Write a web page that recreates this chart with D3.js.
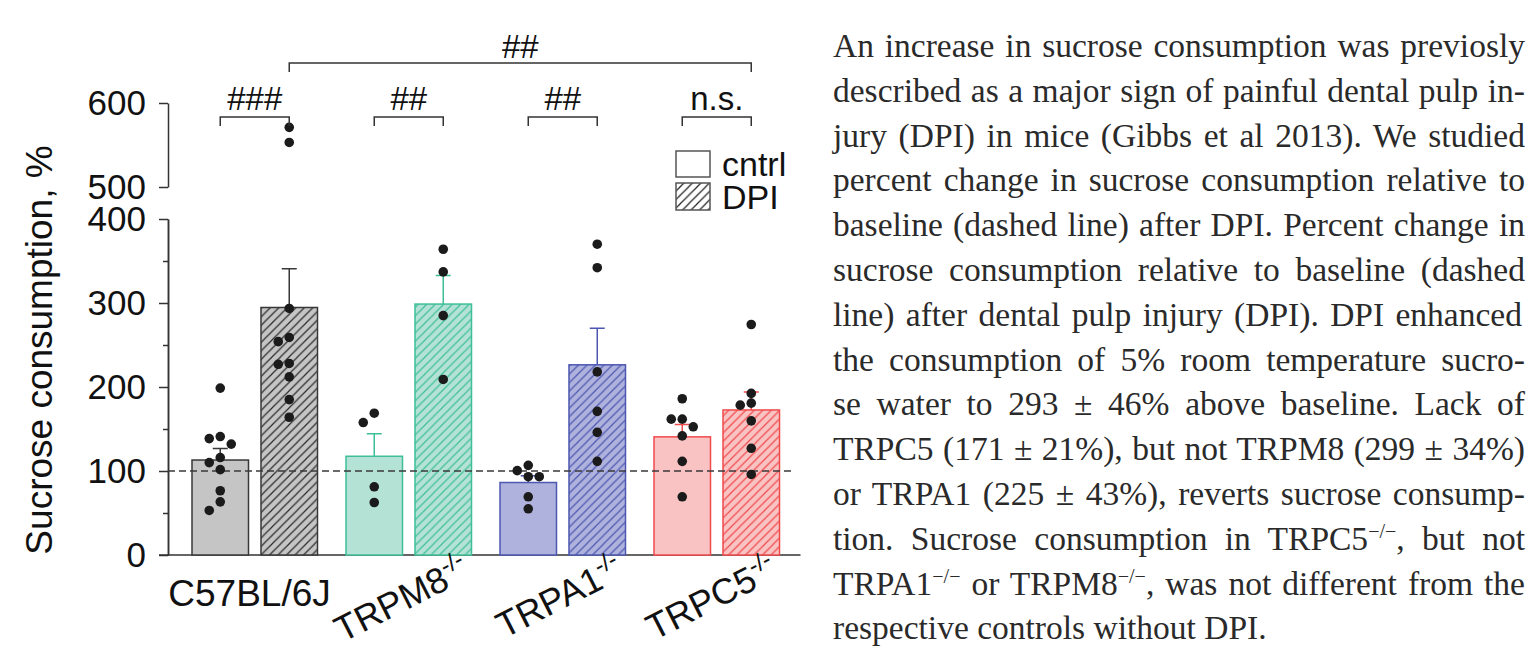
<!DOCTYPE html>
<html lang="en">
<head>
<meta charset="UTF-8">
<title>Sucrose consumption after DPI</title>
<script src="https://d3js.org/d3.v7.min.js"></script>
<style>
  body { margin: 0; background: #fff; }
  svg { position: absolute; left: 0; top: 0; }
  .axis text { font-family: "Liberation Sans", Arial, sans-serif; font-size: 35px; fill: #111; }
  .axis path, .axis line { stroke: #333; stroke-width: 1.5; }
  .lbl { font-family: "Liberation Sans", Arial, sans-serif; fill: #111; }
  .caption { font-family: "Liberation Serif", "Times New Roman", serif; font-size: 33.5px; fill: #2a2a2a; }
</style>
</head>
<body>
<svg id="chart" width="1537" height="658"></svg>
<script>
  // ---- data ----
  const groups = ["C57BL/6J", "TRPM8", "TRPA1", "TRPC5"];
  const conditions = ["cntrl", "DPI"];
  const cntrlPoints = [
    [198.7, 141, 138.6, 132, 116, 110, 101.6, 76.5, 63.3, 53],
    [168.8, 157.7, 81.2, 62.5],
    [106.7, 93.2, 93.2, 100.4, 69.3, 55],
    [186, 161.7, 161.7, 152.6, 141.8, 111.5, 69.3]
  ];
  const dpiPoints = [
    [571, 553, 293.5, 259, 254, 228, 227, 212, 185, 164],
    [364, 337, 285, 209],
    [370, 342, 218, 171, 146, 111.5],
    [274.4, 192.4, 178.4, 180.8, 159.7, 127, 95.9]
  ];
  const lowTicks = [0, 100, 200, 300, 400];
  const lowMinor = [50, 150, 250, 350];
  const highTicks = [500, 600];
  const baselineValue = 100;
  const withinSig = ["###", "##", "##", "n.s."];
  const acrossSig = { label: "##", from: "C57BL/6J", to: "TRPC5" };
  const fills = ["#c5c5c6", "#b4e2d4", "#afb2dc", "#f9c3c3"];
  const strokes = ["#383838", "#3fbf98", "#4d57b2", "#f04a4c"];
  const hatchInk = ["#2b2b2b", "#3fbf98", "#4d57b2", "#f04a4c"];

  const captionLines = [
    "An increase in sucrose consumption was previosly",
    "described as a major sign of painful dental pulp in-",
    "jury (DPI) in mice (Gibbs et al 2013). We studied",
    "percent change in sucrose consumption relative to",
    "baseline (dashed line) after DPI. Percent change in",
    "sucrose consumption relative to baseline (dashed",
    "line) after dental pulp injury (DPI). DPI  enhanced",
    "the consumption of 5% room temperature sucro-",
    "se water to 293 ± 46% above baseline. Lack of",
    "TRPC5 (171 ± 21%), but not TRPM8 (299 ± 34%)",
    "or TRPA1 (225 ± 43%), reverts sucrose consump-",
    "tion. Sucrose consumption in TRPC5[−/−], but not",
    "TRPA1[−/−] or TRPM8[−/−], was not different from the",
    "respective controls without DPI."
  ];

  const svg = d3.select("#chart");
  const defs = svg.append("defs");

  // ---- scales (broken y axis) ----
  const x0 = d3.scaleBand().domain(groups).range([178.5, 794.5]);
  const x1 = d3.scaleBand().domain(conditions).range([13.5, 139]).paddingInner(0.181);
  const bw = x1.bandwidth();
  const yLow = d3.scaleLinear().domain([0, 400]).range([555, 219]);
  const yHigh = d3.scaleLinear().domain([500, 600]).range([187, 103]);
  const y = v => v > 450 ? yHigh(v) : yLow(v);
  const axisX = 168;

  // hatch patterns
  function hatch(id, bg, ink) {
    const p = defs.append("pattern")
      .attr("id", id)
      .attr("patternUnits", "userSpaceOnUse")
      .attr("width", 8.5).attr("height", 8.5);
    p.append("rect").attr("width", 8.5).attr("height", 8.5).attr("fill", bg);
    p.append("path")
      .attr("d", "M-2,2 L2,-2 M0,8.5 L8.5,0 M6.5,10.5 L10.5,6.5")
      .attr("stroke", ink).attr("stroke-width", 1.2);
  }
  groups.forEach((g, i) => hatch("hatch" + i, fills[i], hatchInk[i]));
  hatch("hatchLegend", "#fff", "#222");

  // ---- axes ----
  const gAxis = svg.append("g").attr("class", "axis").attr("transform", `translate(${axisX},0)`);
  gAxis.append("g").call(d3.axisLeft(yLow).tickValues(lowTicks).tickSize(9).tickSizeOuter(0).tickPadding(13));
  gAxis.append("g").call(d3.axisLeft(yLow).tickValues(lowMinor).tickSize(5).tickSizeOuter(0).tickFormat(""));
  gAxis.append("g").call(d3.axisLeft(yHigh).tickValues(highTicks).tickSize(9).tickSizeOuter(0).tickPadding(13));

  // x baseline
  svg.append("line")
    .attr("x1", axisX - 9).attr("x2", x0.range()[1] + 6)
    .attr("y1", yLow(0)).attr("y2", yLow(0))
    .attr("stroke", "#333").attr("stroke-width", 1.5);

  // y label
  svg.append("text")
    .attr("class", "lbl")
    .attr("transform", `translate(52,350) rotate(-90)`)
    .attr("text-anchor", "middle")
    .style("font-size", "37px")
    .text("Sucrose consumption, %");

  // ---- bars ----
  const sem = a => d3.deviation(a) / Math.sqrt(a.length);
  const series = [];
  groups.forEach((g, i) => {
    [cntrlPoints[i], dpiPoints[i]].forEach((pts, j) => {
      series.push({ group: g, gi: i, cond: conditions[j], pts, mean: d3.mean(pts), sem: sem(pts) });
    });
  });
  const bx = d => x0(d.group) + x1(d.cond);

  svg.append("g").selectAll("rect").data(series).join("rect")
    .attr("x", bx)
    .attr("y", d => yLow(d.mean))
    .attr("width", bw)
    .attr("height", d => yLow(0) - yLow(d.mean))
    .attr("fill", d => d.cond === "DPI" ? `url(#hatch${d.gi})` : fills[d.gi])
    .attr("stroke", d => strokes[d.gi])
    .attr("stroke-width", 1.5);

  // error bars (upper only)
  const gErr = svg.append("g");
  series.forEach(d => {
    const cx = bx(d) + bw / 2;
    const top = yLow(d.mean + d.sem);
    gErr.append("path")
      .attr("d", `M${cx},${yLow(d.mean)} V${top} M${cx - 7.5},${top} H${cx + 7.5}`)
      .attr("fill", "none")
      .attr("stroke", strokes[d.gi])
      .attr("stroke-width", 1.5);
  });

  // dashed baseline
  svg.append("line")
    .attr("x1", axisX).attr("x2", x0.range()[1] - 2)
    .attr("y1", yLow(baselineValue)).attr("y2", yLow(baselineValue))
    .attr("stroke", "#3a3a3a").attr("stroke-width", 1.4)
    .attr("stroke-dasharray", "7,4");

  // ---- dots, dodged sideways so they don't pile up ----
  function dodge(values, minDist, step) {
    const placed = [];
    const out = new Array(values.length);
    const order = values.map((v, i) => i).sort((a, b) => values[b] - values[a]);
    order.forEach(i => {
      const py = y(values[i]);
      for (let k = 0; k < 11; k++) {
        const off = (k % 2 ? -1 : 1) * Math.ceil(k / 2) * step;
        if (placed.every(p => Math.hypot(p.x - off, p.y - py) >= minDist)) {
          placed.push({ x: off, y: py });
          out[i] = off;
          break;
        }
      }
    });
    return out;
  }
  const gDots = svg.append("g");
  series.forEach(d => {
    const offs = dodge(d.pts, 9.5, 11);
    const cx = bx(d) + bw / 2;
    d.pts.forEach((v, k) => {
      gDots.append("circle")
        .attr("cx", cx + offs[k])
        .attr("cy", y(v))
        .attr("r", 4.8)
        .attr("fill", "#1b1b1b");
    });
  });

  // ---- significance brackets ----
  const center = (g, c) => x0(g) + x1(c) + bw / 2;
  const gSig = svg.append("g");
  function bracket(xa, xb, yy, label, ty) {
    gSig.append("path")
      .attr("d", `M${xa},${yy + 9} V${yy} H${xb} V${yy + 9}`)
      .attr("fill", "none").attr("stroke", "#333").attr("stroke-width", 1.5);
    gSig.append("text").attr("class", "lbl")
      .attr("x", (xa + xb) / 2).attr("y", ty)
      .attr("text-anchor", "middle")
      .style("font-size", "33px")
      .text(label);
  }
  groups.forEach((g, i) => bracket(center(g, "cntrl"), center(g, "DPI"), 117, withinSig[i], 110));
  bracket(center(acrossSig.from, "DPI"), center(acrossSig.to, "DPI"), 63, acrossSig.label, 58);

  // ---- legend ----
  const gLeg = svg.append("g");
  [["cntrl", "#fff", 151, 26, 176], ["DPI", "url(#hatchLegend)", 183, 27, 209]].forEach(([t, f, yy, h, ty]) => {
    gLeg.append("rect").attr("x", 676).attr("y", yy).attr("width", 34).attr("height", h)
      .attr("fill", f).attr("stroke", "#555").attr("stroke-width", 1.5);
    gLeg.append("text").attr("class", "lbl").attr("x", 722).attr("y", ty)
      .style("font-size", "34px").text(t);
  });

  // ---- group labels ----
  svg.append("text").attr("class", "lbl")
    .attr("x", x0(groups[0]) + x0.bandwidth() / 2 - 6).attr("y", 606)
    .attr("text-anchor", "middle")
    .style("font-size", "37px")
    .text(groups[0]);
  groups.slice(1).forEach(g => {
    const t = svg.append("text").attr("class", "lbl")
      .attr("text-anchor", "end")
      .attr("transform", `translate(${x0(g) + x1("DPI") + bw},577) rotate(-27)`)
      .style("font-size", "36px");
    t.append("tspan").text(g);
    t.append("tspan").attr("dy", -14).style("font-size", "24px").text("-/-");
  });

  // ---- caption, justified line by line ----
  const capX = 833, capW = 692, capY = 57, capLead = 44.8;
  captionLines.forEach((line, i) => {
    const t = svg.append("text").attr("class", "caption")
      .attr("x", capX).attr("y", capY + i * capLead);
    let raised = false;
    line.split(/(\[[^\]]*\])/).filter(s => s.length).forEach(seg => {
      if (seg.startsWith("[")) {
        t.append("tspan").attr("dy", -12).style("font-size", "20px").text(seg.slice(1, -1));
        raised = true;
      } else {
        const ts = t.append("tspan").text(seg);
        if (raised) { ts.attr("dy", 12); raised = false; }
      }
    });
    if (i < captionLines.length - 1) {
      const natural = t.node().getComputedTextLength();
      const gaps = (line.match(/ /g) || []).length;
      if (gaps) t.style("word-spacing", ((capW - natural) / gaps) + "px");
    }
  });
</script>
</body>
</html>
